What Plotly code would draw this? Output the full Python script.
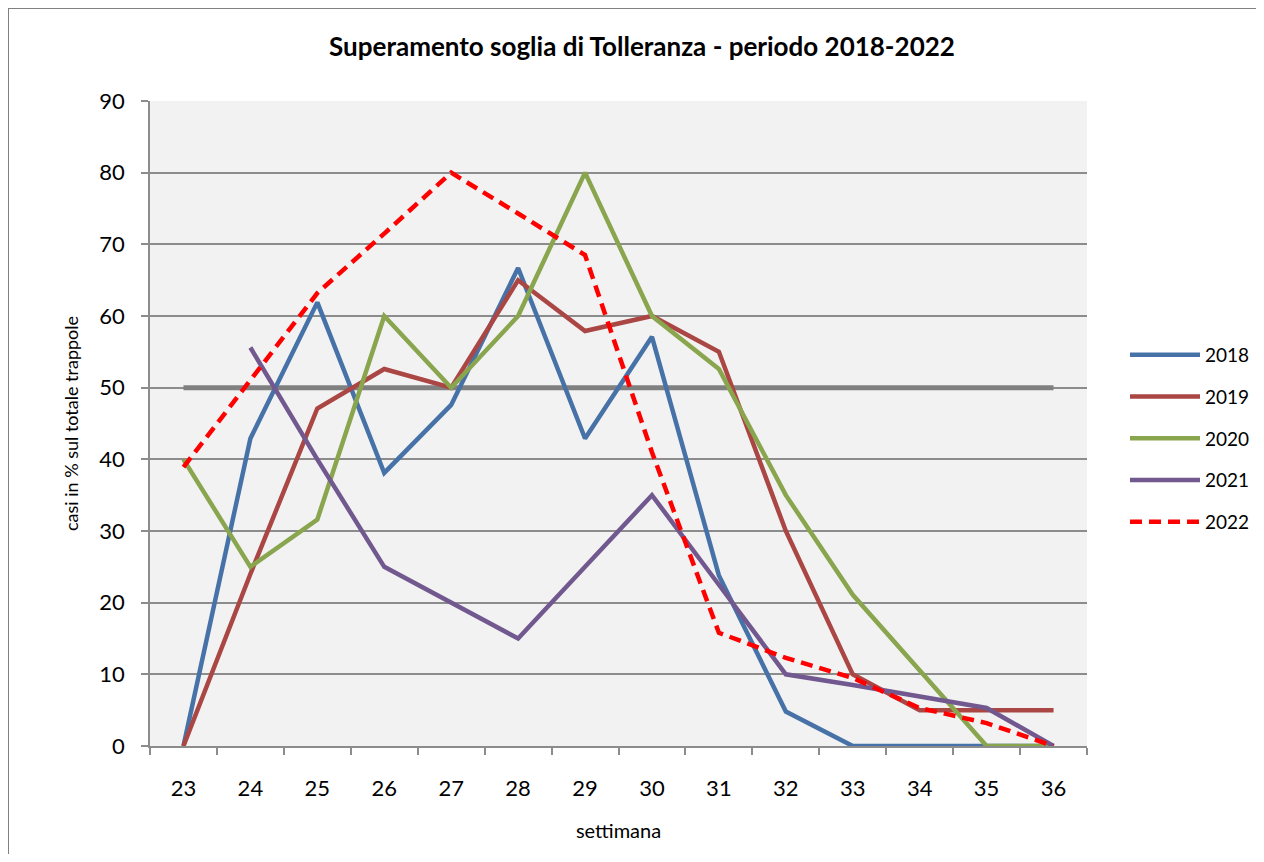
import plotly.graph_objects as go

weeks = [str(w) for w in range(23, 37)]
s2018 = [0, 42.9, 61.9, 38.1, 47.6, 66.7, 42.9, 57.1, 23.8, 4.8, 0, 0, 0, 0]
s2019 = [0, 24, 47.1, 52.6, 50, 65, 57.9, 60, 55, 30, 10, 5, 5, 5]
s2020 = [40, 25, 31.6, 60, 50, 60, 80, 60, 52.6, 35, 21.1, 10.5, 0, 0]
s2021 = [None, 55.6, 40, 25, 20, 15, 25, 35, 22.5, 10, 8.5, 6.9, 5.3, 0]
s2022 = [38.9, 51, 63.2, 71.5, 80, 74.3, 68.5, 41, 15.8, 12.3, 9.5, 5.3, 3.2, 0]
threshold = [50] * 14

series = [
    ("2018", s2018, "#4672A8", "solid"),
    ("2019", s2019, "#AA4643", "solid"),
    ("2020", s2020, "#89A54E", "solid"),
    ("2021", s2021, "#71588F", "solid"),
    ("2022", s2022, "#FF0000", "12px,7px"),
]

FONT = "Lato"
fig = go.Figure()
fig.add_trace(go.Scatter(x=weeks, y=threshold, mode="lines", showlegend=False,
                         line=dict(color="#808080", width=5)))
for name, vals, color, dash in series:
    fig.add_trace(go.Scatter(x=weeks, y=vals, mode="lines", name=name,
                             legendgroup=name,
                             line=dict(color=color, width=4.5, dash=dash)))

# page offset of the figure (body margin)
OFF = 8
L, R, T, B = 150 - OFF, 1087 - OFF, 101 - OFF, 746 - OFF
W, H = 1264 - 2 * OFF, 862 - 2 * OFF
pw, ph = R - L, B - T

fig.update_layout(
    width=W, height=H,
    margin=dict(l=L, r=W - R, t=T, b=H - B, autoexpand=False),
    paper_bgcolor="white",
    plot_bgcolor="#F2F2F2",
    font=dict(family=FONT, color="black"),
    title=dict(text="<b>Superamento soglia di Tolleranza - periodo 2018-2022</b>",
               font=dict(size=26, family=FONT),
               x=(642 - OFF - L) / pw, xref="paper", xanchor="center",
               y=(H - (47 - OFF)) / H, yref="container", yanchor="middle"),
    legend=dict(x=(1125 - OFF - L) / pw, y=(B - (336 - OFF)) / ph, xanchor="left", yanchor="top",
                font=dict(size=19, family=FONT), tracegroupgap=14, itemwidth=70,
                bgcolor="rgba(0,0,0,0)"),
    xaxis=dict(type="category", range=[-0.5, 13.5], tickson="boundaries", ticks="outside",
               ticklen=7, tickcolor="#8C8C8C", tickwidth=1.5, showline=True,
               linecolor="#8C8C8C", linewidth=1.5, showgrid=False,
               tickfont=dict(size=22, family=FONT), ticklabelstandoff=22,
               title=dict(text="settimana", font=dict(size=20, family=FONT), standoff=24)),
    yaxis=dict(range=[0, 90], dtick=10, ticks="outside", ticklen=7, tickcolor="#8C8C8C",
               tickwidth=1.5, showline=True, linecolor="#8C8C8C", linewidth=1.5,
               showgrid=True, gridcolor="#8C8C8C", gridwidth=1.5, zeroline=False,
               tickfont=dict(size=22, family=FONT), ticklabelstandoff=12,
               title=dict(text="casi in % sul totale trappole", font=dict(size=18, family=FONT),
                          standoff=16)),
    shapes=[dict(type="rect", xref="paper", yref="paper",
                 x0=(8 - OFF - L) / pw, x1=(1300 - L) / pw,
                 y0=(B - 900) / ph, y1=(B - (8 - OFF)) / ph,
                 line=dict(color="#808080", width=2), fillcolor="rgba(0,0,0,0)",
                 layer="below")],
)

fig.write_html("out.html")
